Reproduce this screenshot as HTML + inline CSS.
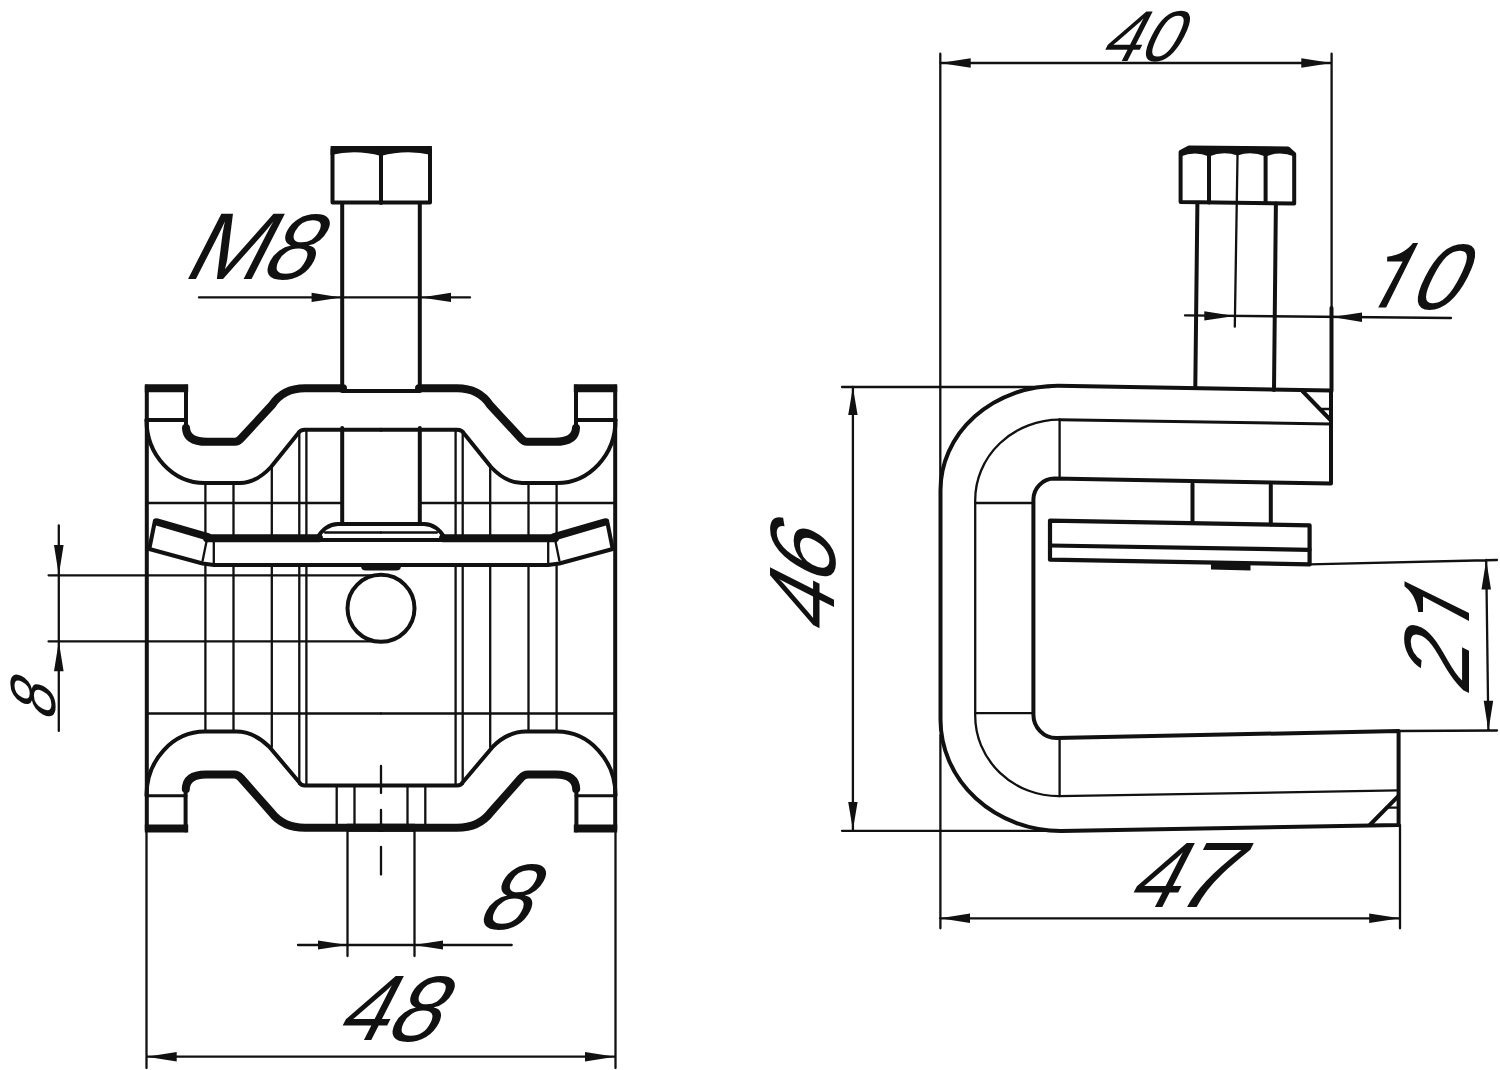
<!DOCTYPE html>
<html><head><meta charset="utf-8"><title>Drawing</title>
<style>
html,body{margin:0;padding:0;background:#fff;width:1500px;height:1070px;overflow:hidden}
svg{display:block}
.k{fill:none;stroke:#111;stroke-linecap:round;stroke-linejoin:round}
.t{stroke-width:4}
.m{stroke-width:3}
.n{stroke-width:2.3}
.h{stroke-width:8}
.bt{stroke-linecap:butt}
.f{fill:#111;stroke:none}
text{font-family:"Liberation Sans",sans-serif;fill:#111}
</style></head>
<body>
<svg width="1500" height="1070" viewBox="0 0 1500 1070">
<!-- LEFT VIEW -->
<g id="lhalf">
  <!-- outer vertical -->
  <path class="k t" d="M146.8 386.5 L146.8 830"/>
  <!-- top tab -->
  <path class="k h bt" d="M144.8 388.3 L188.2 388.3"/>
  <path class="k t" d="M146.5 420 L186 420"/>
  <path class="k t" d="M186 386.5 L186 428"/>
  <!-- top strap upper edge -->
  <path class="k h" d="M186 428 Q186.5 441.8 207 441.8 L235 441.8 Q238 441.8 241 438.5 L272 405 Q283 388.3 305 388.3 L343 388.3"/>
  <path class="k t" d="M342 391 L381 391"/>
  <!-- top strap lower edge -->
  <path class="k t" d="M146.5 420 A58.5 63 0 0 0 205 483 L240 483 Q256 483 271 467 L298 433.5 Q300 429.7 305 429.7 L381 429.7"/>
  <!-- vertical lines in body -->
  <path class="k n" d="M205.4 483 V535 M205.4 565 V731.6 M233.5 483 V536 M233.5 565 V731.6 M271.8 467 V536 M271.8 565 V747 M299.3 433 V536 M299.3 565 V784 M306.4 430 V536 M306.4 565 V785.6"/>
  <!-- horizontal lines -->
  <path class="k n" d="M146.5 503 H342 M146.5 713.5 H381"/>
  <!-- washer -->
  <path class="k h" d="M207 538.3 L319 538.3"/>
  <path class="k" style="stroke-width:7.5" d="M157 522 L208 536.8"/>
  <path class="k t" d="M155 520.5 L149.3 549 L202.6 563.5 L214 565 L381 565"/>
  <path class="k n" d="M206.4 542 L202.6 560.7 M213.8 538 V565"/>
  <!-- dome -->
  <path class="k t" d="M317 538.5 Q325 524.3 338 524 L381 524"/>
  <path class="k n" d="M325 532.5 L381 532.5"/>
  <path class="k t" d="M318 540 L381 540"/>
  <!-- shank -->
  <path class="k t" d="M342.2 204 V389 M342.2 428 V523.5"/>
  <!-- bump under washer -->
  <path class="f" d="M361 564 H381 V570.5 H366 Q361 570.5 361 566 Z"/>
  <!-- lower strap upper edge (block bottom) -->
  <path class="k t" d="M146.5 795.5 A58.5 63.9 0 0 1 205 731.6 L236 731.6 Q254 731.6 269 746.5 L299 782 Q301 785.6 305 785.6 L381 785.6"/>
  <!-- lower tab -->
  <path class="k m" d="M146.5 795.7 L186 795.7"/>
  <path class="k h bt" d="M144.8 828.4 L188.2 828.4"/>
  <path class="k t" d="M185.6 830.5 L185.6 789"/>
  <!-- lower strap inner U -->
  <path class="k h" d="M185.8 789 Q186.3 774.4 206 774.4 L234 774.4 Q238 774.4 241 778 L271 812 Q283 827.8 305 827.8 L382 827.8"/>
  <!-- small verticals under block -->
  <path class="k n" d="M336.7 785.6 V825 M354.5 785.6 V825"/>
  <path class="f" d="M347 823.8 H382 V831.8 H347 Z"/>
  <!-- bottom 8 extension -->
  <path class="k n" d="M347.5 831 V956"/>
</g>
<use href="#lhalf" transform="translate(762 0) scale(-1 1)"/>
<!-- left bolt head -->
<path class="k t" d="M332.5 149.5 V202.5 H430 V149.5"/>
<path class="f" d="M330.6 146 H431.9 V155 Q406 149 381 156 Q356 149 330.6 155 Z"/>
<path class="k t" d="M381 150 V203"/>
<!-- center dashes -->
<path class="k n" d="M381 766 V793 M381 810 V824 M381 847 V874.5"/>
<path class="k n" d="M48.6 575.3 H372 M48.6 641.4 H381"/>
<!-- circle -->
<circle cx="381" cy="608.3" r="33.5" class="k t"/>
<!-- left dims -->
<path class="k n" d="M146.5 831 V1068 M615.5 831 V1068 M146.7 1056.7 H615"/>
<path class="f" d="M146.7 1056.7 L176.7 1052 L176.7 1061.4 Z M615 1056.7 L585 1052 L585 1061.4 Z"/>
<path class="k n" d="M298 945 H511.7"/>
<path class="f" d="M347.3 945 L318 940.4 L318 949.6 Z M414 945 L443 940.4 L443 949.6 Z"/>
<path class="k n" d="M199 297.4 H470"/>
<path class="f" d="M341 297.4 L311.6 292.7 L311.6 302.1 Z M421 297.4 L451 292.7 L451 302.1 Z"/>
<path class="k n" d="M58.8 525.5 V730.9"/>
<path class="f" d="M58.8 575.3 L54 545 L63.6 545 Z M58.8 641.4 L54 671.3 L63.6 671.3 Z"/>

<!-- RIGHT VIEW -->
<g>
  <!-- bolt head -->
  <path class="k t" d="M1180.6 152 L1189 147.5 L1288 148.5 L1294.2 154 L1294.2 203.5 L1180.6 202 Z"/>
  <path class="k t" d="M1209 152 V202.5 M1265.6 152 V203"/>
  <path class="f" d="M1180.6 152 L1189 147 L1288 148 L1294.2 153.5 L1294.2 156.5 Q1280 150.5 1265.6 156.5 Q1251 150.5 1237.6 155.5 Q1223 150.5 1209 156.5 Q1195 150.5 1180.6 156.5 Z"/>
  <path class="k n" d="M1237.6 150 L1234.8 326.7"/>
  <path class="k t" d="M1197.4 203 L1195.3 387.5 M1275.9 203.5 L1274 390"/>
  <!-- bracket outer -->
  <path class="k t" d="M1331 390.6 L1058 385.7 A117.5 104.3 0 0 0 940.5 490 L940.5 719.6 A120.4 111.3 0 0 0 1060.9 830.9 L1398.6 825 L1398.6 731 L1056.3 738 A23 23.6 0 0 1 1033.4 714.4 L1033.4 499.6 A21 21 0 0 1 1054.3 478.6 L1331 483.5 Z"/>
  <!-- bracket inner -->
  <path class="k m" d="M1331 424 L1059.6 419.7"/>
  <path class="k n" d="M1059.6 419.7 A84.4 80.3 0 0 0 975.2 500 L975.2 715.7 A83.7 80.5 0 0 0 1058.9 796.2 L1398 790.4"/>
  <path class="k n" d="M1059.6 419.7 V478.6 M975.2 503 H1033.4 M975.2 713.1 H1033.4 M1059.6 738 V796.2"/>
  <path class="k t" d="M1302.4 391 L1331 420.5"/>
  <path class="k n" d="M1322 409 H1331"/>
  <path class="k t" d="M1369.8 825 L1398 796.3"/>
  <path class="k n" d="M1386 807.7 H1398"/>
  <!-- shank between jaw and washer -->
  <path class="k t" d="M1192.5 484 V523 M1270.8 485 V524.5"/>
  <!-- washer -->
  <path class="k" style="stroke-width:4.2" d="M1050 520.7 L1309.6 525.4 L1309.6 564.4 L1050 559.7 Z"/>
  <path class="k" style="stroke-width:4.2" d="M1050 545.5 L1309.6 549.8"/>
  <path class="f" d="M1211 561 L1250.5 562 L1250.5 570.4 L1211 569.6 Z"/>
  <!-- dims -->
  <path class="k n" d="M940.3 53.7 V480 M1331.6 53.7 V390 M940 63 H1331.6"/>
  <path class="k t" d="M1331.5 308 V391"/>
  <path class="f" d="M940 63 L970.7 58.3 L970.7 67.7 Z M1331.6 63 L1301.3 58.3 L1301.3 67.7 Z"/>
  <path class="k n" d="M1185 315.4 L1451 318"/>
  <path class="f" d="M1234.5 316 L1204.3 311.2 L1204.3 320.6 Z M1332 317 L1362 312.6 L1362 322 Z"/>
  <path class="k n" d="M842 387 H1050 M842 830.8 H1062"/>
  <path class="k n" d="M852.9 387 V830"/>
  <path class="f" d="M852.9 387 L848.2 415 L857.6 415 Z M852.9 830 L848.2 802 L857.6 802 Z"/>
  <path class="k n" d="M940.4 735 V928.3 M1400 825 V928.3 M940 918.3 H1400"/>
  <path class="f" d="M940 918.3 L970 913.6 L970 923 Z M1400 918.3 L1369.2 913.6 L1369.2 923 Z"/>
  <path class="k n" d="M1309.6 564.4 L1497 560 M1398.6 731 L1497 730.5 M1486.2 560 L1488.4 730.7"/>
  <path class="f" d="M1486.2 560 L1481.5 589.5 L1491 589.5 Z M1488.4 730.7 L1483.7 700.7 L1493.2 700.7 Z"/>
</g>

<!-- TEXT -->
<text transform="translate(180.2 278.8) skewX(-27)" font-size="95">M</text>
<text transform="translate(256.9 279.0) skewX(-27)" font-size="93">8</text>
<text transform="translate(473.2 929.2) skewX(-27)" font-size="93">8</text>
<text transform="translate(333.2 1039.7) skewX(-27) scale(0.95 1)" font-size="93">4</text>
<text transform="translate(381.9 1040.8) skewX(-27)" font-size="93">8</text>
<text transform="translate(1097.9 60.7) skewX(-27) scale(0.95 1)" font-size="72">4</text>
<text transform="translate(1136.3 61.2) skewX(-27) scale(0.95 1)" font-size="72">0</text>
<path class="f" transform="translate(1378.2 307.5) skewX(-27) scale(1.000)" d="M0 0 L7.9 0 L7 -64.5 L1.9 -64.5 C0.5 -59 -3 -54 -12.8 -51.6 L-16.9 -50.8 L-14.5 -46 L1 -46 Z"/>
<text transform="translate(1405.3 308.5) skewX(-27) scale(0.96 1)" font-size="93">0</text>
<text transform="translate(1124.3 907.4) skewX(-27) scale(0.95 1)" font-size="93">4</text>
<text transform="translate(1168.4 907.4) skewX(-27) scale(1.12 1)" font-size="93">7</text>
<text transform="translate(834.3 637.7) rotate(-90) skewX(-27) scale(0.95 1)" font-size="93">4</text>
<text transform="translate(835.0 589.9) rotate(-90) skewX(-27)" font-size="93">6</text>
<text transform="translate(1469.0 697.7) rotate(-90) skewX(-27)" font-size="93">2</text>
<path class="f" transform="translate(1469.0 621.0) rotate(-90) skewX(-27) scale(1.000)" d="M0 0 L7.9 0 L7 -64.5 L1.9 -64.5 C0.5 -59 -3 -54 -12.8 -51.6 L-16.9 -50.8 L-14.5 -46 L1 -46 Z"/>
<text transform="translate(54.8 723.3) rotate(-90) skewX(-27) scale(0.95 1)" font-size="64">8</text>
<!-- /TEXT -->
</svg>
</body></html>
